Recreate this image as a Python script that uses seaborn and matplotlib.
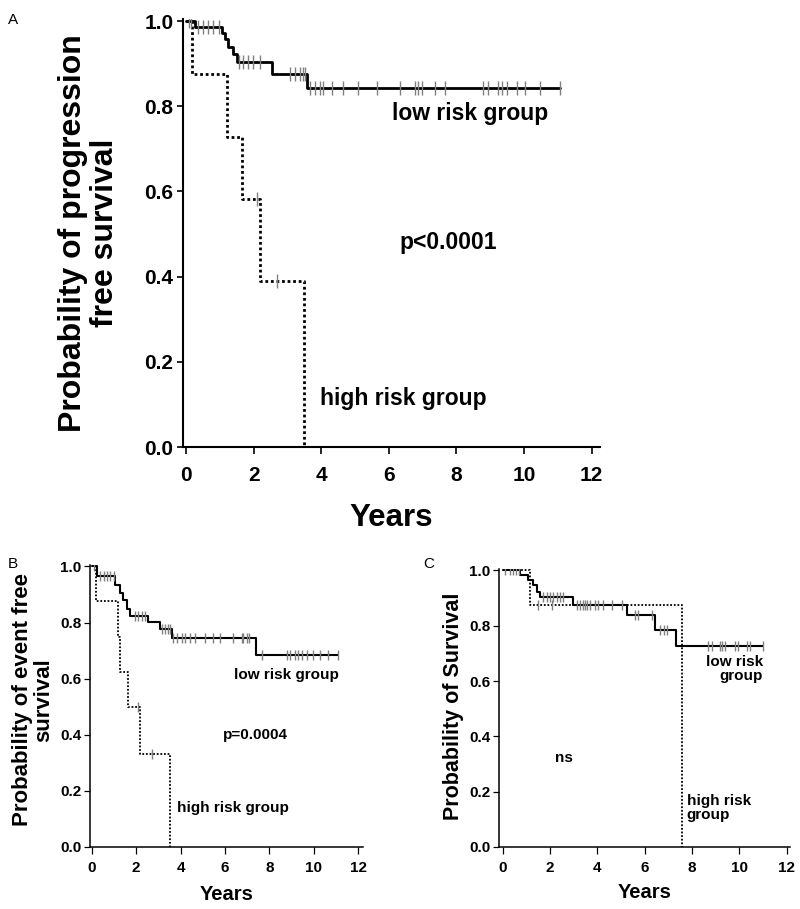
import numpy as np
import pandas as pd
import matplotlib
matplotlib.use("Agg")
import matplotlib.pyplot as plt
import seaborn as sns

# ---- data (years, survival probability) ----
# panel A: progression free survival
a_low_times = [0.27, 1.06, 1.15, 1.24, 1.39, 1.50, 2.54, 3.57]
a_low_surv = [0.986, 0.972, 0.958, 0.940, 0.922, 0.904, 0.877, 0.843]
a_low_end = 11.07
a_low_cens = [0.08, 0.15, 0.36, 0.51, 0.65, 0.80, 0.98, 1.56, 1.69, 1.83, 1.98, 2.19,
              3.08, 3.22, 3.37, 3.46, 3.52, 3.67, 3.82, 3.96, 4.06, 4.31, 4.65, 5.10,
              5.64, 6.33, 6.78, 6.87, 6.97, 7.37, 7.66, 8.80, 8.94, 9.24, 9.34, 9.49,
              9.78, 10.03, 10.47, 11.07]
a_high_times = [0.17, 1.20, 1.65, 2.19, 3.49]
a_high_surv = [0.875, 0.729, 0.583, 0.389, 0.0]
a_high_cens = [2.11, 2.68]

# panel B: event free survival
b_low_times = [0.22, 1.05, 1.28, 1.42, 1.58, 1.73, 2.55, 3.08, 3.60, 7.40]
b_low_surv = [0.966, 0.934, 0.904, 0.879, 0.847, 0.825, 0.802, 0.778, 0.746, 0.683]
b_low_end = 11.10
b_low_cens = [0.08, 0.38, 0.53, 0.68, 0.83, 0.98, 1.95, 2.10, 2.25, 2.40, 3.15, 3.30,
              3.45, 3.53, 3.68, 3.83, 4.05, 4.20, 4.43, 4.65, 5.10, 5.48, 5.78, 6.38,
              6.76, 6.83, 6.98, 7.10, 7.66, 8.78, 8.93, 9.16, 9.31, 9.46, 9.68, 9.98,
              10.29, 10.66, 11.10]
b_high_times = [0.18, 1.20, 1.27, 1.65, 2.18, 3.53]
b_high_surv = [0.875, 0.750, 0.625, 0.500, 0.333, 0.0]
b_high_cens = [2.10, 2.70]

# panel C: overall survival
c_low_times = [0.73, 1.08, 1.29, 1.44, 1.58, 2.98, 5.27, 6.44, 7.33]
c_low_surv = [0.982, 0.964, 0.946, 0.922, 0.904, 0.876, 0.837, 0.786, 0.725]
c_low_end = 11.01
c_low_cens = [0.10, 0.31, 0.45, 0.56, 0.70, 1.72, 1.86, 2.00, 2.14, 2.28, 2.42, 2.56,
              3.13, 3.27, 3.38, 3.48, 3.58, 3.69, 3.90, 4.04, 4.25, 4.60, 5.03, 5.59,
              5.73, 6.30, 6.65, 6.80, 6.94, 8.69, 8.83, 9.18, 9.25, 9.39, 9.82, 9.96,
              10.31, 10.45, 11.01]
c_high_times = [1.13, 7.58]
c_high_surv = [0.875, 0.0]
c_high_cens = [1.50, 2.07]

x_ticks = [0, 2, 4, 6, 8, 10, 12]
y_ticks = [0.0, 0.2, 0.4, 0.6, 0.8, 1.0]

W, H = 800, 909


def curve(times, surv, end=None):
    x = [0.0] + list(times)
    y = [1.0] + list(surv)
    if end is not None:
        x.append(end)
        y.append(surv[-1])
    return pd.DataFrame({"t": x, "s": y})


def censor_points(times, surv, cens):
    vals = np.array([1.0] + list(surv))
    idx = np.searchsorted(np.array(times), np.array(cens), side="right")
    return pd.DataFrame({"t": cens, "s": vals[idx]})


def axes_px(fig, left, top, right, bottom):
    return fig.add_axes([left / W, 1 - bottom / H, (right - left) / W, (bottom - top) / H])


def draw_panel(ax, low, high, xlim, lw, dot_lw, tick_fs, spine_lw, cens_s, xpad, ypad):
    lo_times, lo_surv, lo_end, lo_cens = low
    hi_times, hi_surv, hi_cens = high
    sns.lineplot(data=curve(hi_times, hi_surv), x="t", y="s", ax=ax, estimator=None,
                 sort=False, drawstyle="steps-post", color="black", lw=dot_lw,
                 linestyle=(0, (1, 1)), dash_capstyle="butt")
    sns.lineplot(data=curve(lo_times, lo_surv, lo_end), x="t", y="s", ax=ax,
                 estimator=None, sort=False, drawstyle="steps-post", color="black", lw=lw)
    sns.scatterplot(data=censor_points(lo_times, lo_surv, lo_cens), x="t", y="s", ax=ax,
                    marker="|", s=cens_s, color="0.5", linewidth=1.0, zorder=3)
    sns.scatterplot(data=censor_points(hi_times, hi_surv, hi_cens), x="t", y="s", ax=ax,
                    marker="|", s=cens_s, color="0.5", linewidth=1.0, zorder=3)
    ax.set_xlim(*xlim)
    ax.set_ylim(0, 1.005)
    ax.set_xticks(x_ticks)
    ax.set_yticks(y_ticks)
    ax.set_yticklabels([f"{v:.1f}" for v in y_ticks])
    ax.set_xlabel("")
    ax.set_ylabel("")
    for lab in ax.get_xticklabels() + ax.get_yticklabels():
        lab.set_fontweight("bold")
        lab.set_fontsize(tick_fs)
    ax.tick_params(axis="x", direction="out", length=5, width=spine_lw * 0.8, pad=xpad,
                   colors="black")
    ax.tick_params(axis="y", direction="out", length=4, width=spine_lw * 0.8, pad=ypad,
                   colors="black")
    for side in ["top", "right"]:
        ax.spines[side].set_visible(False)
    for side in ["left", "bottom"]:
        ax.spines[side].set_linewidth(spine_lw)
        ax.spines[side].set_color("black")
    ax.set_facecolor("white")


sns.set_style("ticks")
plt.rcParams["font.family"] = ["Liberation Sans", "DejaVu Sans"]
plt.rcParams["text.color"] = "black"
plt.rcParams["axes.labelcolor"] = "black"

fig = plt.figure(figsize=(W / 100, H / 100), dpi=100)
fig.patch.set_facecolor("white")

# Panel A
ax_a = axes_px(fig, 183, 19, 600, 447)
draw_panel(ax_a, (a_low_times, a_low_surv, a_low_end, a_low_cens),
           (a_high_times, a_high_surv, a_high_cens),
           (-0.09, 12.25), 2.0, 2.0, 15, 1.5, 110, 9, 3)
ax_a.text(6.09, 0.784, "low risk group", fontsize=16.5, fontweight="bold", va="center")
ax_a.text(6.33, 0.481, "p<0.0001", fontsize=16.5, fontweight="bold", va="center")
ax_a.text(3.96, 0.115, "high risk group", fontsize=16.5, fontweight="bold", va="center")
fig.text(89 / W, 1 - 233 / H, "Probability of progression\nfree survival", rotation=90,
         ha="center", va="center", fontsize=23, fontweight="bold", linespacing=1.1)
fig.text(391 / W, 1 - 518 / H, "Years", ha="center", va="center",
         fontsize=22.5, fontweight="bold")
fig.text(8 / W, 1 - 20 / H, "A", ha="left", va="center", fontsize=11)

# Panel B
ax_b = axes_px(fig, 90, 565, 363, 847)
draw_panel(ax_b, (b_low_times, b_low_surv, b_low_end, b_low_cens),
           (b_high_times, b_high_surv, b_high_cens),
           (-0.08, 12.22), 1.5, 1.3, 11, 1.1, 50, 5, 2)
ax_b.text(6.4, 0.612, "low risk group", fontsize=11, fontweight="bold", va="center")
ax_b.text(5.93, 0.398, "p=0.0004", fontsize=11, fontweight="bold", va="center")
ax_b.text(3.85, 0.138, "high risk group", fontsize=11, fontweight="bold", va="center")
fig.text(33 / W, 1 - 700 / H, "Probability of event free\nsurvival", rotation=90,
         ha="center", va="center", fontsize=16, fontweight="bold", linespacing=1.05)
fig.text(227 / W, 1 - 894 / H, "Years", ha="center", va="center",
         fontsize=14.5, fontweight="bold")
fig.text(8 / W, 1 - 564 / H, "B", ha="left", va="center", fontsize=11)

# Panel C
ax_c = axes_px(fig, 499, 569, 790, 847)
draw_panel(ax_c, (c_low_times, c_low_surv, c_low_end, c_low_cens),
           (c_high_times, c_high_surv, c_high_cens),
           (-0.16, 12.14), 1.5, 1.3, 11, 1.1, 50, 5, 2)
ax_c.text(11.0, 0.642, "low risk\ngroup", fontsize=11, fontweight="bold", va="center",
          ha="right", multialignment="right", linespacing=1.0)
ax_c.text(7.77, 0.14, "high risk\ngroup", fontsize=11, fontweight="bold", va="center",
          ha="left", linespacing=1.0)
ax_c.text(2.21, 0.32, "ns", fontsize=11, fontweight="bold", va="center")
fig.text(453 / W, 1 - 706 / H, "Probability of Survival", rotation=90,
         ha="center", va="center", fontsize=15.5, fontweight="bold")
fig.text(645 / W, 1 - 892 / H, "Years", ha="center", va="center",
         fontsize=14.5, fontweight="bold")
fig.text(423 / W, 1 - 564 / H, "C", ha="left", va="center", fontsize=11)

fig.savefig("out.png", dpi=100, facecolor="white")
